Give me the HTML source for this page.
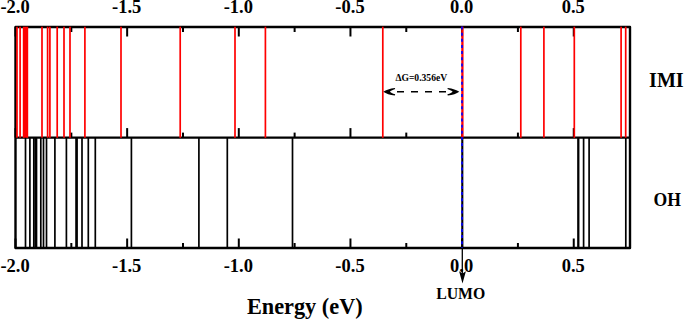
<!DOCTYPE html><html><head><meta charset="utf-8"><style>html,body{margin:0;padding:0;background:#fff;}body{width:685px;height:319px;overflow:hidden;}svg{display:block;}text{font-family:"Liberation Serif",serif;font-weight:bold;fill:#000;}</style></head><body>
<svg width="685" height="319" viewBox="0 0 685 319">
<rect width="685" height="319" fill="#fff"/>
<defs><filter id="bl" x="-5%" y="-5%" width="110%" height="110%"><feGaussianBlur stdDeviation="0.3"/></filter></defs><g filter="url(#bl)">
<line x1="15.50" y1="27.0" x2="15.50" y2="36.5" stroke="#000" stroke-width="2"/>
<line x1="15.50" y1="137.6" x2="15.50" y2="128.1" stroke="#000" stroke-width="2"/>
<line x1="15.50" y1="248.0" x2="15.50" y2="238.5" stroke="#000" stroke-width="2"/>
<line x1="127.15" y1="27.0" x2="127.15" y2="36.5" stroke="#000" stroke-width="2"/>
<line x1="127.15" y1="137.6" x2="127.15" y2="128.1" stroke="#000" stroke-width="2"/>
<line x1="127.15" y1="248.0" x2="127.15" y2="238.5" stroke="#000" stroke-width="2"/>
<line x1="238.80" y1="27.0" x2="238.80" y2="36.5" stroke="#000" stroke-width="2"/>
<line x1="238.80" y1="137.6" x2="238.80" y2="128.1" stroke="#000" stroke-width="2"/>
<line x1="238.80" y1="248.0" x2="238.80" y2="238.5" stroke="#000" stroke-width="2"/>
<line x1="350.45" y1="27.0" x2="350.45" y2="36.5" stroke="#000" stroke-width="2"/>
<line x1="350.45" y1="137.6" x2="350.45" y2="128.1" stroke="#000" stroke-width="2"/>
<line x1="350.45" y1="248.0" x2="350.45" y2="238.5" stroke="#000" stroke-width="2"/>
<line x1="462.10" y1="27.0" x2="462.10" y2="36.5" stroke="#000" stroke-width="2"/>
<line x1="462.10" y1="137.6" x2="462.10" y2="128.1" stroke="#000" stroke-width="2"/>
<line x1="462.10" y1="248.0" x2="462.10" y2="238.5" stroke="#000" stroke-width="2"/>
<line x1="573.75" y1="27.0" x2="573.75" y2="36.5" stroke="#000" stroke-width="2"/>
<line x1="573.75" y1="137.6" x2="573.75" y2="128.1" stroke="#000" stroke-width="2"/>
<line x1="573.75" y1="248.0" x2="573.75" y2="238.5" stroke="#000" stroke-width="2"/>
<line x1="71.33" y1="27.0" x2="71.33" y2="32.0" stroke="#000" stroke-width="2"/>
<line x1="71.33" y1="137.6" x2="71.33" y2="132.6" stroke="#000" stroke-width="2"/>
<line x1="71.33" y1="248.0" x2="71.33" y2="243.0" stroke="#000" stroke-width="2"/>
<line x1="182.98" y1="27.0" x2="182.98" y2="32.0" stroke="#000" stroke-width="2"/>
<line x1="182.98" y1="137.6" x2="182.98" y2="132.6" stroke="#000" stroke-width="2"/>
<line x1="182.98" y1="248.0" x2="182.98" y2="243.0" stroke="#000" stroke-width="2"/>
<line x1="294.62" y1="27.0" x2="294.62" y2="32.0" stroke="#000" stroke-width="2"/>
<line x1="294.62" y1="137.6" x2="294.62" y2="132.6" stroke="#000" stroke-width="2"/>
<line x1="294.62" y1="248.0" x2="294.62" y2="243.0" stroke="#000" stroke-width="2"/>
<line x1="406.28" y1="27.0" x2="406.28" y2="32.0" stroke="#000" stroke-width="2"/>
<line x1="406.28" y1="137.6" x2="406.28" y2="132.6" stroke="#000" stroke-width="2"/>
<line x1="406.28" y1="248.0" x2="406.28" y2="243.0" stroke="#000" stroke-width="2"/>
<line x1="517.92" y1="27.0" x2="517.92" y2="32.0" stroke="#000" stroke-width="2"/>
<line x1="517.92" y1="137.6" x2="517.92" y2="132.6" stroke="#000" stroke-width="2"/>
<line x1="517.92" y1="248.0" x2="517.92" y2="243.0" stroke="#000" stroke-width="2"/>
<rect x="15.5" y="27.0" width="614.5" height="221.0" fill="none" stroke="#000" stroke-width="2.4" stroke-linejoin="round"/>
<line x1="15.5" y1="137.6" x2="630.0" y2="137.6" stroke="#000" stroke-width="2.4"/>
<line x1="17" y1="26.7" x2="17" y2="137.8" stroke="#f00" stroke-width="1.7"/>
<line x1="20.1" y1="26.7" x2="20.1" y2="137.8" stroke="#f00" stroke-width="1.7"/>
<line x1="42" y1="26.7" x2="42" y2="137.8" stroke="#f00" stroke-width="1.7"/>
<line x1="47.6" y1="26.7" x2="47.6" y2="137.8" stroke="#f00" stroke-width="1.7"/>
<line x1="49.9" y1="26.7" x2="49.9" y2="137.8" stroke="#f00" stroke-width="1.7"/>
<line x1="57.2" y1="26.7" x2="57.2" y2="137.8" stroke="#f00" stroke-width="1.7"/>
<line x1="64" y1="26.7" x2="64" y2="137.8" stroke="#f00" stroke-width="1.7"/>
<line x1="70" y1="26.7" x2="70" y2="137.8" stroke="#f00" stroke-width="1.7"/>
<line x1="84.9" y1="26.7" x2="84.9" y2="137.8" stroke="#f00" stroke-width="1.7"/>
<line x1="121" y1="26.7" x2="121" y2="137.8" stroke="#f00" stroke-width="1.7"/>
<line x1="180.2" y1="26.7" x2="180.2" y2="137.8" stroke="#f00" stroke-width="1.7"/>
<line x1="235" y1="26.7" x2="235" y2="137.8" stroke="#f00" stroke-width="1.7"/>
<line x1="265.4" y1="26.7" x2="265.4" y2="137.8" stroke="#f00" stroke-width="1.7"/>
<line x1="382.8" y1="26.7" x2="382.8" y2="137.8" stroke="#f00" stroke-width="1.7"/>
<line x1="462.4" y1="26.7" x2="462.4" y2="137.8" stroke="#f00" stroke-width="2.3"/>
<line x1="520.8" y1="26.7" x2="520.8" y2="137.8" stroke="#f00" stroke-width="1.7"/>
<line x1="543.9" y1="26.7" x2="543.9" y2="137.8" stroke="#f00" stroke-width="1.7"/>
<line x1="574.3" y1="26.7" x2="574.3" y2="137.8" stroke="#f00" stroke-width="1.7"/>
<line x1="621.1" y1="26.7" x2="621.1" y2="137.8" stroke="#f00" stroke-width="1.7"/>
<line x1="625.7" y1="26.7" x2="625.7" y2="137.8" stroke="#f00" stroke-width="1.7"/>
<rect x="22.8" y="26.7" width="5.4" height="111.10000000000001" fill="#f00"/>
<line x1="25.5" y1="137.8" x2="25.5" y2="248.0" stroke="#000" stroke-width="1.7"/>
<line x1="29.9" y1="137.8" x2="29.9" y2="248.0" stroke="#000" stroke-width="1.7"/>
<line x1="33.8" y1="137.8" x2="33.8" y2="248.0" stroke="#000" stroke-width="1.7"/>
<line x1="35.2" y1="137.8" x2="35.2" y2="248.0" stroke="#000" stroke-width="1.7"/>
<line x1="36.5" y1="137.8" x2="36.5" y2="248.0" stroke="#000" stroke-width="1.7"/>
<line x1="40.8" y1="137.8" x2="40.8" y2="248.0" stroke="#000" stroke-width="1.7"/>
<line x1="43.5" y1="137.8" x2="43.5" y2="248.0" stroke="#000" stroke-width="1.7"/>
<line x1="46.5" y1="137.8" x2="46.5" y2="248.0" stroke="#000" stroke-width="1.7"/>
<line x1="54.9" y1="137.8" x2="54.9" y2="248.0" stroke="#000" stroke-width="1.7"/>
<line x1="66.4" y1="137.8" x2="66.4" y2="248.0" stroke="#000" stroke-width="1.7"/>
<line x1="76.55" y1="137.8" x2="76.55" y2="248.0" stroke="#000" stroke-width="2.7"/>
<line x1="82" y1="137.8" x2="82" y2="248.0" stroke="#000" stroke-width="1.7"/>
<line x1="88.3" y1="137.8" x2="88.3" y2="248.0" stroke="#000" stroke-width="1.7"/>
<line x1="95.3" y1="137.8" x2="95.3" y2="248.0" stroke="#000" stroke-width="1.7"/>
<line x1="131.4" y1="137.8" x2="131.4" y2="248.0" stroke="#000" stroke-width="1.7"/>
<line x1="198.9" y1="137.8" x2="198.9" y2="248.0" stroke="#000" stroke-width="1.7"/>
<line x1="227.3" y1="137.8" x2="227.3" y2="248.0" stroke="#000" stroke-width="1.7"/>
<line x1="292.5" y1="137.8" x2="292.5" y2="248.0" stroke="#000" stroke-width="1.7"/>
<line x1="462.3" y1="137.8" x2="462.3" y2="248.0" stroke="#000" stroke-width="2.1"/>
<line x1="578.3" y1="137.8" x2="578.3" y2="248.0" stroke="#000" stroke-width="2.3"/>
<line x1="583.6" y1="137.8" x2="583.6" y2="248.0" stroke="#000" stroke-width="1.7"/>
<line x1="589.1" y1="137.8" x2="589.1" y2="248.0" stroke="#000" stroke-width="1.7"/>
<line x1="625.8" y1="137.8" x2="625.8" y2="248.0" stroke="#000" stroke-width="1.7"/>
<line x1="462.0" y1="26.6" x2="462.0" y2="248.0" stroke="#00f" stroke-width="1.7" stroke-dasharray="3 3.13"/>
<line x1="462.3" y1="248" x2="462.3" y2="274" stroke="#000" stroke-width="1.3"/>
<path d="M459.1,271.2 L462.5,283.5 L465.9,271.2 L462.5,273.4 Z" fill="#000"/>
<line x1="397" y1="91.7" x2="446" y2="91.7" stroke="#000" stroke-width="1.5" stroke-dasharray="7 7"/>
<path d="M383.3,91.7 C386,89.8 390,88.5 394.8,87.9 L395.2,89.1 C392.5,90 390.4,91 390,91.7 C390.4,92.4 392.5,93.4 395.2,94.3 L394.8,95.5 C390,94.9 386,93.6 383.3,91.7 Z" fill="#000"/>
<path d="M459.3,91.7 C456.6,89.8 452.6,88.5 447.8,87.9 L447.4,89.1 C450.1,90 452.2,91 452.6,91.7 C452.2,92.4 450.1,93.4 447.4,94.3 L447.8,95.5 C452.6,94.9 456.6,93.6 459.3,91.7 Z" fill="#000"/>
</g><g>
<text x="15.05" y="12.6" font-size="18.5" text-anchor="middle">-2.0</text>
<text x="15.05" y="271.6" font-size="18.5" text-anchor="middle">-2.0</text>
<text x="126.70" y="12.6" font-size="18.5" text-anchor="middle">-1.5</text>
<text x="126.70" y="271.6" font-size="18.5" text-anchor="middle">-1.5</text>
<text x="238.35" y="12.6" font-size="18.5" text-anchor="middle">-1.0</text>
<text x="238.35" y="271.6" font-size="18.5" text-anchor="middle">-1.0</text>
<text x="350.00" y="12.6" font-size="18.5" text-anchor="middle">-0.5</text>
<text x="350.00" y="271.6" font-size="18.5" text-anchor="middle">-0.5</text>
<text x="461.65" y="12.6" font-size="18.5" text-anchor="middle">0.0</text>
<text x="461.65" y="271.6" font-size="18.5" text-anchor="middle">0.0</text>
<text x="573.30" y="12.6" font-size="18.5" text-anchor="middle">0.5</text>
<text x="573.30" y="271.6" font-size="18.5" text-anchor="middle">0.5</text>
<text x="649.1" y="87.4" font-size="21" textLength="34.6" lengthAdjust="spacingAndGlyphs">IMI</text>
<text x="653.6" y="206" font-size="18.2" textLength="27.4" lengthAdjust="spacingAndGlyphs">OH</text>
<text x="246.9" y="314.1" font-size="22.8" textLength="115.8" lengthAdjust="spacingAndGlyphs">Energy (eV)</text>
<text x="436.2" y="298.6" font-size="16.1" textLength="49.1" lengthAdjust="spacingAndGlyphs">LUMO</text>
<text x="395.4" y="81.2" font-size="10.2" textLength="51.8" lengthAdjust="spacingAndGlyphs">&#916;G=0.356eV</text>
</g></svg></body></html>
